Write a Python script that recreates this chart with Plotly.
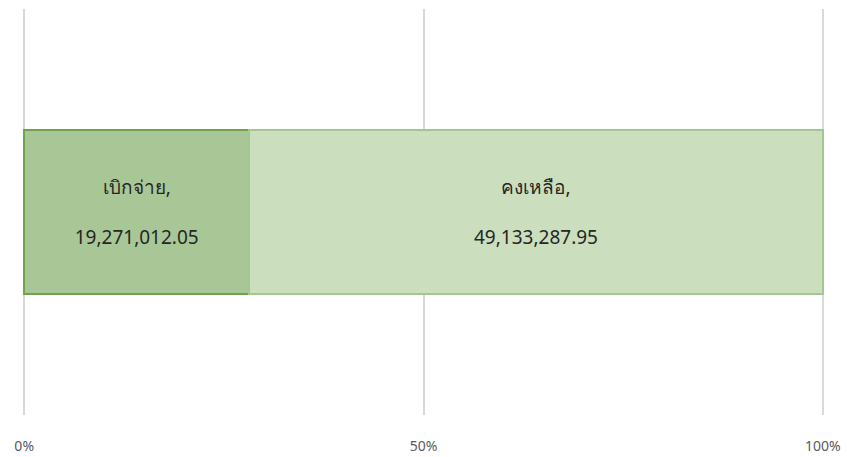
import plotly.graph_objects as go

categories = [""]
labels = ["เบิกจ่าย", "คงเหลือ"]
values = [19271012.05, 49133287.95]
tick_vals = [0, 50, 100]
tick_text = ["0%", "50%", "100%"]

fills = ["#a9c697", "#cbdfbe"]
borders = ["#70a24f", "#a3c88f"]

fig = go.Figure()
for name, v, fc, bc in zip(labels, values, fills, borders):
    fig.add_trace(go.Bar(
        y=categories, x=[v], orientation="h", name=name,
        marker=dict(color=fc, line=dict(color=bc, width=1.5)),
        text=[f"{name},<br> <br>{v:,.2f}"],
        textposition="inside", insidetextanchor="middle", textangle=0,
        constraintext="none",
        insidetextfont=dict(family="Noto Sans, Tahoma, sans-serif", size=19, color="#262626"),
        width=0.404, hoverinfo="skip",
    ))

fig.update_layout(
    barmode="stack", barnorm="percent",
    width=847, height=457,
    margin=dict(l=23, r=23, t=9, b=42, autoexpand=False),
    paper_bgcolor="white", plot_bgcolor="white",
    showlegend=False,
    xaxis=dict(range=[-0.15, 100.15], tickvals=tick_vals, ticktext=tick_text,
               automargin=False,
               showgrid=True, gridcolor="#d9d9d9", gridwidth=1.5,
               zeroline=False, showline=False,
               ticks="outside", ticklen=0, ticklabelstandoff=18,
               tickfont=dict(family="Noto Sans, Tahoma, sans-serif", size=14, color="#595959")),
    yaxis=dict(range=[-0.5, 0.5], showticklabels=False, showgrid=False, zeroline=False,
               automargin=False),
)
fig.write_html("out.html", config={"displayModeBar": False},
               post_script="document.body.style.margin='0';document.body.style.overflow='hidden';")
